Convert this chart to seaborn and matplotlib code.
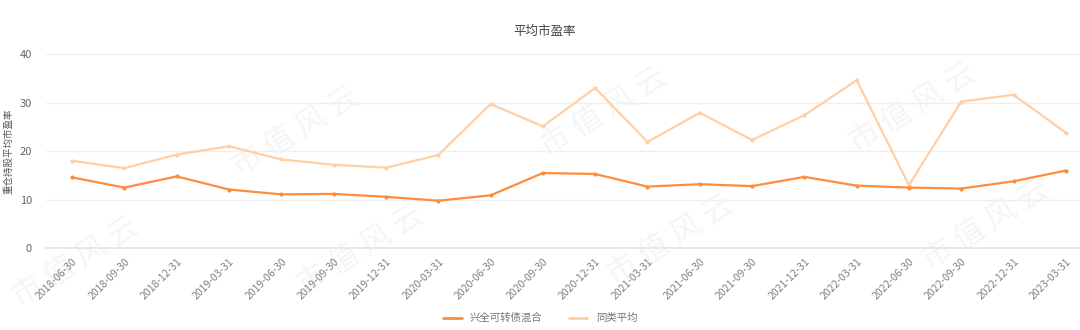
import matplotlib
matplotlib.use("Agg")
import matplotlib.pyplot as plt
import seaborn as sns
import pandas as pd
import numpy as np
from matplotlib.lines import Line2D

dates = ["2018-06-30", "2018-09-30", "2018-12-31", "2019-03-31", "2019-06-30",
         "2019-09-30", "2019-12-31", "2020-03-31", "2020-06-30", "2020-09-30",
         "2020-12-31", "2021-03-31", "2021-06-30", "2021-09-30", "2021-12-31",
         "2022-03-31", "2022-06-30", "2022-09-30", "2022-12-31", "2023-03-31"]
fund_pe = [14.6, 12.5, 14.8, 12.1, 11.1, 11.2, 10.6, 9.8, 10.9, 15.5,
           15.3, 12.7, 13.2, 12.8, 14.7, 12.9, 12.5, 12.3, 13.8, 16.0]
peer_pe = [18.0, 16.5, 19.3, 21.0, 18.3, 17.2, 16.6, 19.2, 29.7, 25.1,
           33.0, 21.9, 27.9, 22.3, 27.4, 34.6, 13.0, 30.2, 31.6, 23.8]
series_names = ["兴全可转债混合", "同类平均"]
series_colors = ["#ff8c3c", "#ffcfa6"]
y_ticks = [0, 10, 20, 30, 40]

sns.set_theme(style="white")
plt.rcParams['font.family'] = ['Noto Sans CJK SC', 'DejaVu Sans']

df = pd.DataFrame({
    "date": dates * 2,
    "pe": fund_pe + peer_pe,
    "series": [series_names[0]] * len(dates) + [series_names[1]] * len(dates),
})
df["x"] = list(range(len(dates))) * 2

fig = plt.figure(figsize=(10.8, 3.3), dpi=100)
fig.patch.set_facecolor("white")

# faint watermarks (behind the axes)
wm_centers = [(295, 132), (603, 112), (912, 108), (75, 262), (360, 250), (670, 240), (985, 225)]
for cx, cy in wm_centers:
    fig.text(cx / 1080, 1 - cy / 330, "市 值 风 云", fontsize=22, color="#f5f5f5",
             rotation=32, ha="center", va="center", zorder=-1)

ax = fig.add_axes([46 / 1080, 1 - 248.3 / 330, (1092 - 46) / 1080, (248.3 - 54) / 330])
ax.set_facecolor("none")
ax.set_zorder(1)

sns.lineplot(data=df, x="x", y="pe", hue="series", palette=dict(zip(series_names, series_colors)),
             hue_order=[series_names[1], series_names[0]],
             marker="o", markersize=3, markeredgewidth=0, linewidth=1.6, ax=ax, legend=False)

ax.set_xlim(-0.5, len(dates) - 0.5)
ax.set_ylim(0, 40)
ax.set_yticks(y_ticks)
ax.set_yticklabels([str(v) for v in y_ticks], fontsize=8, color="#666666")
ax.set_xticks(range(len(dates)))
ax.set_xticklabels(dates, rotation=45, ha="right", rotation_mode="anchor", fontsize=7.5, color="#808080")
ax.tick_params(axis="x", length=0, pad=6)
ax.tick_params(axis="y", length=0, pad=10)
ax.set_xticks(np.arange(-0.5, len(dates), 1), minor=True)
ax.tick_params(axis="x", which="minor", length=4, color="#dfe5f0", width=1)
ax.grid(axis="y", color="#eeeff3", linewidth=1)
for s in ["top", "right", "left"]:
    ax.spines[s].set_visible(False)
ax.spines["bottom"].set_color("#dfe5f0")
ax.spines["bottom"].set_linewidth(1.2)
ax.set_xlabel("")
ax.set_ylabel("重仓持股平均市盈率", fontsize=6.8, color="#555555")
ax.yaxis.set_label_coords(-0.031, 0.5)

fig.text(545 / 1080, 1 - 31 / 330, "平均市盈率", fontsize=9, color="#444444", ha="center", va="center")

handles = [Line2D([0], [0], color=c, linewidth=2) for c in series_colors]
fig.legend(handles, series_names, loc="center", bbox_to_anchor=(540 / 1080, 1 - 318 / 330),
           ncol=2, frameon=False, fontsize=7.5, handlelength=1.8, columnspacing=2.5,
           labelcolor="#777777")

fig.savefig("out.png", dpi=100, facecolor="white")
